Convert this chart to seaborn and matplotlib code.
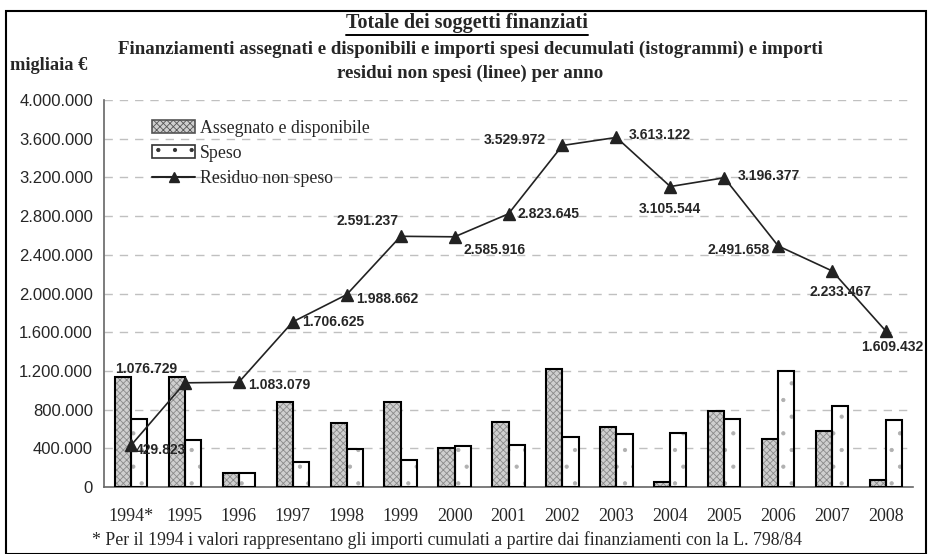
import numpy as np
import pandas as pd
from matplotlib import pyplot as plt
from matplotlib.patches import Patch, Rectangle
from matplotlib.lines import Line2D
from matplotlib.ticker import FuncFormatter, MultipleLocator
import seaborn as sns

anni = ["1994*", "1995", "1996", "1997", "1998", "1999", "2000", "2001",
        "2002", "2003", "2004", "2005", "2006", "2007", "2008"]
assegnato = [1140000, 1135000, 149000, 882000, 658000, 882000, 403000, 672000,
             1223000, 623000, 48000, 786000, 496000, 579000, 69000]
speso = [706000, 483000, 143000, 262000, 389000, 279000, 420000, 434000,
         517000, 548000, 561000, 706000, 1201000, 834000, 689000]
residuo = [429823, 1076729, 1083079, 1706625, 1988662, 2591237, 2585916, 2823645,
           3529972, 3613122, 3105544, 3196377, 2491658, 2233467, 1609432]

# label offsets in pixels (dx, dy, ha)
offsets = [(5, -5, "left"), (-8, 14, "right"), (9, -3, "left"), (9, 0, "left"),
           (9, -4, "left"), (-2, 15, "right"), (9, -13, "left"), (9, 0, "left"),
           (-17, 5, "right"), (12, 2, "left"), (0, -22, "center"), (13, 2, "left"),
           (-9, -4, "right"), (8, -21, "center"), (6, -16, "center")]

df = pd.DataFrame({
    "anno": anni * 2,
    "valore": assegnato + speso,
    "serie": ["Assegnato e disponibile"] * len(anni) + ["Speso"] * len(anni),
})

sns.set_style("white")
plt.rcParams["font.family"] = ["Liberation Sans", "DejaVu Sans"]
plt.rcParams["hatch.linewidth"] = 0.6

W, H = 934, 554
fig = plt.figure(figsize=(W / 100, H / 100), dpi=100)
ax = fig.add_axes([104 / W, 1 - 487 / H, (913 - 104) / W, (487 - 100) / H])

sns.barplot(data=df, x="anno", y="valore", hue="serie", order=anni,
            palette=["#cfcfcf", "white"], width=0.6, ax=ax, legend=False,
            saturation=1)
# hatch in gray, then black outlines on top
for cont, h, hc in zip(ax.containers, ["xxxxx", ". "], ["#8a8a8a", "#b0b0b0"]):
    for p in cont:
        p.set_hatch(h)
        p.set_edgecolor(hc)
        p.set_linewidth(0)
        outline = Rectangle(p.get_xy(), p.get_width(), p.get_height(),
                            fill=False, edgecolor="black", linewidth=1.5, zorder=3)
        ax.add_patch(outline)

x = np.arange(len(anni))
ax.plot(x, residuo, color="#222222", linewidth=1.2, marker="^", markersize=8, zorder=4)
for xi, v, (dx, dy, ha) in zip(x, residuo, offsets):
    ax.annotate(f"{v:,}".replace(",", "."), (xi, v), xytext=(dx, dy),
                textcoords="offset pixels", ha=ha, va="center",
                fontsize=10, fontweight="bold", zorder=5)

ax.set_xlim(-0.5, len(anni) - 0.5)
ax.set_ylim(0, 4000000)
ax.yaxis.set_major_locator(MultipleLocator(400000))
ax.yaxis.set_major_formatter(FuncFormatter(lambda v, p: f"{int(v):,}".replace(",", ".")))
ax.set_xticks(x)
ax.set_xticklabels(anni, fontfamily="Liberation Serif", fontsize=13)
ax.set_xticks(np.arange(-0.5, len(anni)), minor=True)
ax.tick_params(axis="x", which="major", length=0, pad=15)
ax.tick_params(axis="x", which="minor", length=10, direction="inout", color="#555555")
ax.tick_params(axis="y", length=8, direction="inout", color="#555555", labelsize=12, pad=4)
ax.set_xlabel("")
ax.set_ylabel("")
ax.grid(axis="y", color="#c0c0c0", linestyle=(0, (6, 5)), linewidth=1)
ax.set_axisbelow(True)
for s in ["top", "right"]:
    ax.spines[s].set_visible(False)
for s in ["left", "bottom"]:
    ax.spines[s].set_color("#666666")
    ax.spines[s].set_linewidth(1.2)

handles = [
    Patch(facecolor="#cfcfcf", edgecolor="#8a8a8a", hatch="xxxxx", label="Assegnato e disponibile"),
    Patch(facecolor="white", edgecolor="#b0b0b0", hatch=". ", label="Speso"),
    Line2D([0], [0], color="#222222", marker="^", markersize=7, label="Residuo non speso"),
]
leg = ax.legend(handles=handles, loc="upper left", bbox_to_anchor=(0.04, 0.99), frameon=False,
                prop={"family": "Liberation Serif", "size": 12.8}, handlelength=2.4,
                labelspacing=0.45, handletextpad=0.3)
for hp in leg.legend_handles[:2]:
    hp.set_linewidth(1.2)
leg.legend_handles[0].set_edgecolor("#555555")
leg.legend_handles[1].set_edgecolor("#333333")

# frame around the whole chart
fig.patches.append(Rectangle((6 / W, 0), (926 - 6) / W, 1 - 11 / H, transform=fig.transFigure,
                             fill=False, edgecolor="black", linewidth=1.5))

title = fig.text(467 / W, 1 - 23 / H, "Totale dei soggetti finanziati", ha="center", va="center",
                 fontfamily="Liberation Serif", fontweight="bold", fontsize=14.5)
# underline as wide as the title text
fig.canvas.draw()
bb = title.get_window_extent().transformed(fig.transFigure.inverted())
fig.add_artist(Line2D([bb.x0, bb.x1], [1 - 35 / H, 1 - 35 / H], color="black", linewidth=1.4))
fig.text(470 / W, 1 - 49 / H,
         "Finanziamenti assegnati e disponibili e importi spesi decumulati (istogrammi) e importi",
         ha="center", va="center", fontfamily="Liberation Serif", fontweight="bold", fontsize=13.6)
fig.text(470 / W, 1 - 73 / H, "residui non spesi (linee) per anno", ha="center", va="center",
         fontfamily="Liberation Serif", fontweight="bold", fontsize=13.6)
fig.text(10 / W, 1 - 66 / H, "migliaia €", ha="left", va="center",
         fontfamily="Liberation Serif", fontweight="bold", fontsize=13.2)
fig.text(92 / W, 1 - 540 / H,
         "* Per il 1994 i valori rappresentano gli importi cumulati a partire dai finanziamenti con la L. 798/84",
         ha="left", va="center", fontfamily="Liberation Serif", fontsize=12.8)

plt.savefig("out.png", dpi=100)
